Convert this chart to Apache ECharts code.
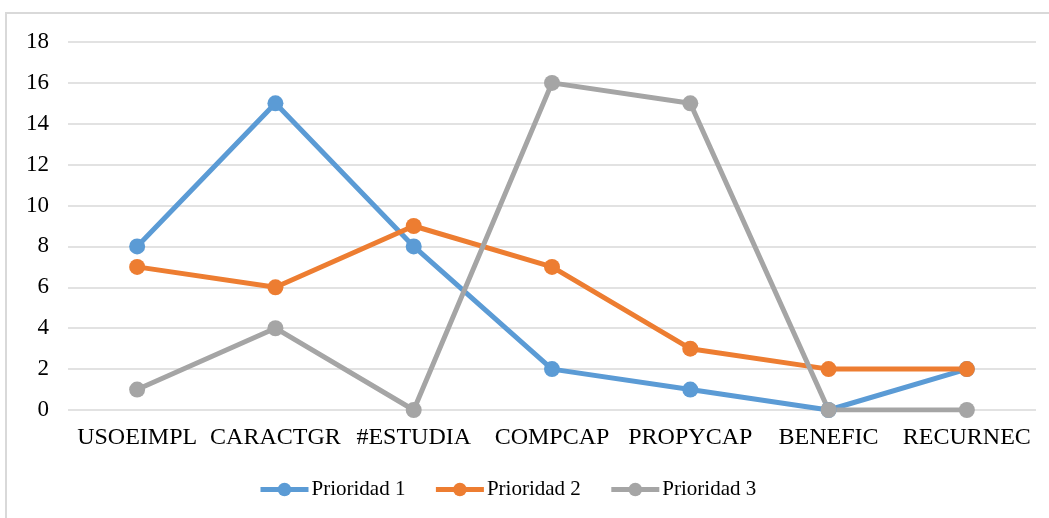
<!DOCTYPE html>
<html>
<head>
<meta charset="utf-8">
<script src="https://cdn.jsdelivr.net/npm/echarts@6/dist/echarts.min.js"></script>
<style>
  html, body { margin: 0; padding: 0; background: #fff; }
  #chart { width: 1049px; height: 518px; }
</style>
</head>
<body>
<div id="chart"></div>
<script>
// categorías y valores
const categories = ["USOEIMPL", "CARACTGR", "#ESTUDIA", "COMPCAP", "PROPYCAP", "BENEFIC", "RECURNEC"];
const prioridad1 = [8, 15, 8, 2, 1, 0, 2];
const prioridad2 = [7, 6, 9, 7, 3, 2, 2];
const prioridad3 = [1, 4, 0, 16, 15, 0, 0];

const font = "'Liberation Serif', 'Times New Roman', serif";

const mkSeries = (name, data, color) => ({
  name: name,
  type: "line",
  data: data,
  symbol: "circle",
  symbolSize: 16,
  lineStyle: { width: 5, color: color },
  itemStyle: { color: color },
  z: 2,
});

const chart = echarts.init(document.getElementById("chart"));
chart.setOption({
  animation: false,
  textStyle: { fontFamily: font },
  graphic: [
    {
      type: "rect",
      shape: { x: 6, y: 13, width: 1100, height: 600 },
      style: { fill: "none", stroke: "#d9d9d9", lineWidth: 2 },
      silent: true,
    },
  ],
  grid: { left: 68, right: 13, top: 42, bottom: 108 },
  legend: {
    bottom: 13,
    left: 253,
    itemWidth: 48,
    itemHeight: 17,
    itemGap: 28,
    lineStyle: { width: 5 },
    textStyle: { fontFamily: font, fontSize: 21, color: "#000", padding: [0, 0, 0, -2] },
    data: ["Prioridad 1", "Prioridad 2", "Prioridad 3"],
  },
  xAxis: {
    type: "category",
    data: categories,
    boundaryGap: true,
    axisLine: { show: false },
    axisTick: { show: false },
    axisLabel: { fontFamily: font, fontSize: 24, color: "#000", margin: 16, interval: 0 },
  },
  yAxis: {
    type: "value",
    min: 0,
    max: 18,
    interval: 2,
    axisLine: { show: false },
    axisTick: { show: false },
    axisLabel: { fontFamily: font, fontSize: 23, color: "#000", margin: 19 },
    splitLine: { lineStyle: { color: "#d9d9d9", width: 1.5 } },
  },
  series: [
    mkSeries("Prioridad 1", prioridad1, "#5b9bd5"),
    mkSeries("Prioridad 2", prioridad2, "#ed7d31"),
    mkSeries("Prioridad 3", prioridad3, "#a5a5a5"),
  ],
});
</script>
</body>
</html>
